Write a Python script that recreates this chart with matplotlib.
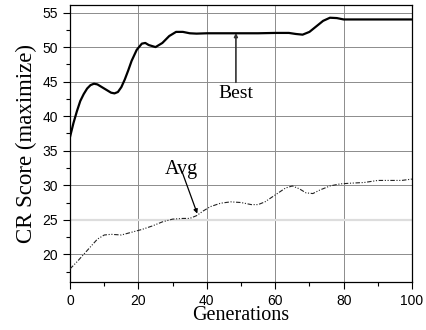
import matplotlib
matplotlib.use('Agg')
import matplotlib.pyplot as plt
from matplotlib.ticker import MultipleLocator

# values
gen_best = [0, 1, 2, 3, 4, 5, 6, 7, 8, 10, 12, 13, 14, 15, 16, 17, 18, 19.5, 21, 22,
            23, 25, 27, 29, 31, 33, 35, 37, 40, 45, 50, 55, 60, 64, 66, 68, 70,
            72, 74, 76, 78, 80, 85, 90, 95, 100]
best = [37.0, 39.0, 40.7, 42.2, 43.2, 44.0, 44.5, 44.7, 44.6, 44.0, 43.4, 43.3, 43.5,
        44.2, 45.3, 46.6, 48.0, 49.6, 50.5, 50.6, 50.3, 50.0, 50.6, 51.6, 52.2,
        52.2, 52.0, 51.95, 52.0, 52.0, 52.0, 52.0, 52.05, 52.05, 51.9, 51.8,
        52.2, 53.0, 53.8, 54.25, 54.2, 54.0, 54.0, 54.0, 54.0, 54.0]

gen_avg = [0, 2, 4, 6, 8, 10, 12, 15, 18, 21, 24, 27, 30, 33, 35, 37, 39, 41, 44, 47,
           50, 53, 55, 57, 60, 63, 65, 67, 69, 71, 73, 76, 79, 82, 86, 90, 94,
           97, 100]
avg = [17.9, 18.9, 20.0, 21.1, 22.2, 22.8, 22.9, 22.8, 23.2, 23.6, 24.1, 24.7, 25.1,
       25.2, 25.2, 25.6, 26.3, 26.9, 27.4, 27.6, 27.5, 27.2, 27.2, 27.6, 28.6,
       29.6, 29.9, 29.5, 28.9, 28.8, 29.3, 29.9, 30.2, 30.3, 30.4, 30.7, 30.7,
       30.7, 30.9]

serif = ['Liberation Serif', 'DejaVu Serif']
sans = ['Liberation Sans', 'DejaVu Sans']

fig = plt.figure(figsize=(4.27, 3.30), dpi=100)
ax = fig.add_axes([0.164, 0.1455, 0.801, 0.8395])

ax.plot(gen_best, best, color='black', lw=1.6, solid_joinstyle='round', zorder=3)
ax.plot(gen_avg, avg, color='#222222', lw=0.8, dashes=(4, 1.5, 1, 1.5, 1, 1.5), zorder=3)

ax.set_xlim(0, 100)
ax.set_ylim(16, 56.1)
ax.xaxis.set_major_locator(MultipleLocator(20))
ax.xaxis.set_minor_locator(MultipleLocator(10))
ax.yaxis.set_major_locator(MultipleLocator(5))
ax.yaxis.set_minor_locator(MultipleLocator(2.5))
ax.tick_params(which='both', direction='out', top=False, right=False, width=0.8)
ax.tick_params(which='major', length=5, labelsize=10)
ax.tick_params(which='minor', length=3)
for lab in ax.get_xticklabels() + ax.get_yticklabels():
    lab.set_family(sans)

ax.grid(True, which='major', color='#8c8c8c', lw=0.7)
for gl, v in zip(ax.get_ygridlines(), ax.get_yticks()):
    if abs(v - 25) < 1e-6:
        gl.set_color('#dddddd')
        gl.set_linewidth(1.6)
ax.set_axisbelow(True)
for s in ax.spines.values():
    s.set_linewidth(0.9)

ax.set_xlabel('Generations', family=serif, fontsize=14.5, labelpad=-1)
ax.set_ylabel('CR Score (maximize)', family=serif, fontsize=16.5, labelpad=4)

ax.annotate('Best', xy=(48.5, 52.05), xytext=(48.5, 44.5), family=serif, fontsize=14,
            ha='center', va='top',
            arrowprops=dict(arrowstyle='-|>', color='#333333', lw=1.2,
                            mutation_scale=5, shrinkA=0, shrinkB=0))
ax.annotate('Avg', xy=(37.2, 25.9), xytext=(32.5, 32.3), family=serif, fontsize=14.5,
            ha='center', va='center',
            arrowprops=dict(arrowstyle='-|>', color='black', lw=0.9, patchA=None,
                            mutation_scale=6, shrinkA=2, shrinkB=0))

fig.savefig('out.png', dpi=100)
